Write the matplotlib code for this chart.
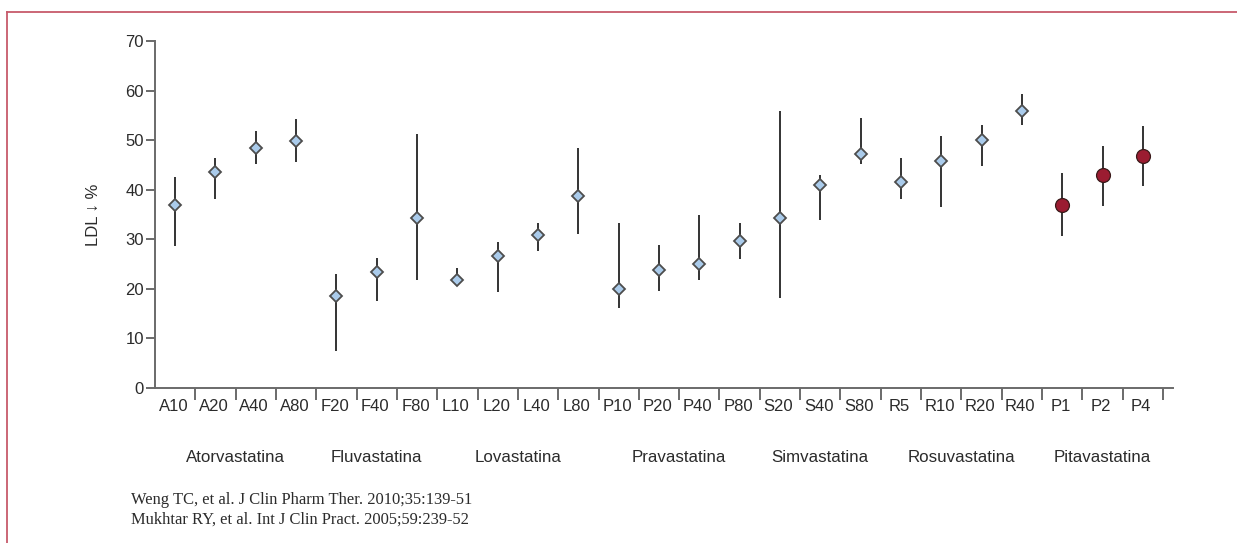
import matplotlib
matplotlib.use("Agg")
import matplotlib.pyplot as plt
from matplotlib.lines import Line2D
from matplotlib.transforms import blended_transform_factory
import numpy as np

# ---- data ----
doses = ["A10", "A20", "A40", "A80", "F20", "F40", "F80", "L10", "L20", "L40", "L80",
         "P10", "P20", "P40", "P80", "S20", "S40", "S80", "R5", "R10", "R20", "R40",
         "P1", "P2", "P4"]
groups = ["Atorvastatina", "Fluvastatina", "Lovastatina", "Pravastatina",
          "Simvastatina", "Rosuvastatina", "Pitavastatina"]
group_sizes = [4, 3, 4, 4, 3, 4, 3]
mean_ldl = [37.0, 43.5, 48.4, 49.9, 18.5, 23.4, 34.2, 21.7, 26.6, 30.9, 38.8,
            20.0, 23.9, 25.1, 29.7, 34.3, 41.0, 47.3, 41.5, 45.8, 50.0, 55.8,
            36.9, 42.9, 46.8]
low_ldl = [28.7, 38.1, 45.1, 45.6, 7.4, 17.5, 21.7, 20.8, 19.3, 27.7, 31.0,
           16.2, 19.5, 21.7, 26.0, 18.2, 33.8, 45.1, 38.1, 36.6, 44.8, 53.1,
           30.7, 36.8, 40.8]
high_ldl = [42.5, 46.3, 51.8, 54.3, 22.9, 26.3, 51.3, 24.2, 29.4, 33.2, 48.5,
            33.2, 28.9, 34.8, 33.2, 55.8, 43.0, 54.5, 46.3, 50.8, 53.0, 59.3,
            43.3, 48.8, 52.8]
highlight = "Pitavastatina"
yticks = [0, 10, 20, 30, 40, 50, 60, 70]
footnote = ["Weng TC, et al. J Clin Pharm Ther. 2010;35:139-51",
            "Mukhtar RY, et al. Int J Clin Pract. 2005;59:239-52"]

SANS = ["Liberation Sans Narrow", "Liberation Sans", "DejaVu Sans"]
TXT = "#2b2b2b"
AXC = "#6a6a6a"
FS = 12

fig = plt.figure(figsize=(12.37, 5.43), dpi=100)
W, H = 1237, 543
ax = fig.add_axes([155 / W, 1 - 388 / H, (1173 - 155) / W, (388 - 41) / H])

x = np.arange(len(doses))
group_of = []
for g, n in zip(groups, group_sizes):
    group_of += [g] * n
mean = np.array(mean_ldl)
lo = np.array(low_ldl)
hi = np.array(high_ldl)

ax.vlines(x, lo, hi, color="#333333", lw=1.4, zorder=2)
for xi, m, g in zip(x, mean, group_of):
    if g == highlight:
        ax.plot(xi, m, marker="o", ms=10, mfc="#9b1c31", mec="#3a1a1a", mew=0.9,
                zorder=3, ls="none")
    else:
        ax.plot(xi, m, marker="D", ms=6.5, mfc="#aacbeb", mec="#4d4d4d", mew=1.3,
                zorder=3, ls="none")

ax.set_xlim(-0.5, len(doses) - 0.5 + 10 / 40.3)
ax.set_ylim(0, 70)

for s in ["top", "right"]:
    ax.spines[s].set_visible(False)
for s in ["left", "bottom"]:
    ax.spines[s].set_color(AXC)
    ax.spines[s].set_linewidth(1.4)

ax.set_yticks(yticks)
ax.set_yticklabels([str(v) for v in yticks], family=SANS, fontsize=FS, color=TXT)
ax.tick_params(axis="y", direction="out", length=6.5, width=1.4, color=AXC, pad=1.5)

bounds = np.arange(0.5, len(doses) - 0.5 + 0.01, 1.0)
ax.set_xticks(bounds)
ax.set_xticklabels([])
ax.tick_params(axis="x", direction="out", length=8.5, width=1.4, color=AXC)

trans = blended_transform_factory(ax.transData, ax.transAxes)
for xi, lab in zip(x, doses):
    ax.text(xi - 0.04, -0.053, lab, transform=trans, ha="center", va="center",
            family=SANS, fontsize=FS, color=TXT)

start = 0
for g, n in zip(groups, group_sizes):
    c = start + (n - 1) / 2.0
    ax.text(c, -0.199, g, transform=trans, ha="center", va="center",
            family=SANS, fontsize=12.2, color=TXT)
    start += n

fig.text(93 / W, 1 - 215 / H, "LDL \u2193 %", rotation=90, ha="center", va="center",
         family=SANS, fontsize=FS, color=TXT)

for i, line in enumerate(footnote):
    fig.text(131 / W, 1 - (500 + 20 * i) / H, line, ha="left", va="center",
             family=["Liberation Serif", "DejaVu Serif"], fontsize=11.9, color=TXT)

bc = "#c75b6b"
fig.add_artist(Line2D([7.5 / W, 7.5 / W], [0, 1 - 12.3 / H], color=bc, lw=1.3,
                      transform=fig.transFigure))
fig.add_artist(Line2D([7.5 / W, 1], [1 - 12.3 / H, 1 - 12.3 / H], color=bc, lw=1.3,
                      transform=fig.transFigure))

fig.savefig("out.png", dpi=100)
